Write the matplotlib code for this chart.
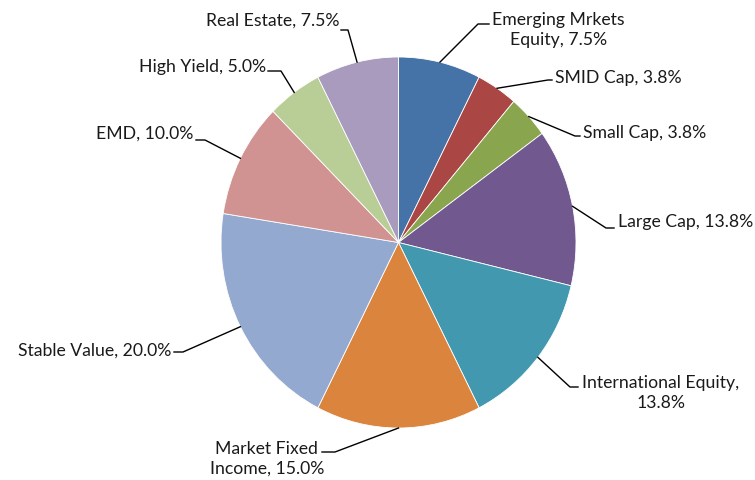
import numpy as np
import matplotlib
matplotlib.use("Agg")
import matplotlib.pyplot as plt

# allocation data
categories = ["Emerging Mrkets\nEquity", "SMID Cap", "Small Cap", "Large Cap",
              "International Equity,\n", "Market Fixed\nIncome", "Stable Value",
              "EMD", "High Yield", "Real Estate"]
values = [7.5, 3.75, 3.75, 13.75, 13.75, 15.0, 20.0, 10.0, 5.0, 7.5]
colors = ["#4572A7", "#AA4643", "#89A54E", "#71588F", "#4198AF",
          "#DB843D", "#93A9CF", "#D19392", "#B9CD96", "#A99BBD"]

W, H = 755, 480
CX, CY = 398.5, 242.5   # pie centre in pixels (from top-left)
RX, RY = 177.5, 185.5   # pie radius in pixels


def px(x, y):
    # pixel (from top-left) -> data coords
    return (x - CX) / RX, (CY - y) / RY


# label layout: elbow, line end, text position (pixels), alignment
layout = [
    ((478, 24), (489, 24), (492, 30), "left"),
    ((548, 80), (552, 80), (555, 78), "left"),
    ((575, 136), (580, 136), (583, 133), "left"),
    ((606, 228), (614, 228), (618, 222), "left"),
    ((570, 387), (578, 387), (582, 393), "left"),
    ((335, 452), (322, 452), (324, 459), "right"),
    ((183, 352), (174, 352), (171, 351), "right"),
    ((205, 140), (196, 140), (193, 134), "right"),
    ((281, 71), (268, 71), (266, 67), "right"),
    ((348, 30), (341, 30), (339, 21), "right"),
]

plt.rcParams["font.family"] = ["Lato", "DejaVu Sans"]

fig = plt.figure(figsize=(W / 100, H / 100), dpi=100)
ax = fig.add_axes([0, 0, 1, 1])
ax.pie(values, colors=colors, startangle=90, counterclock=False, radius=1,
       wedgeprops=dict(edgecolor="white", linewidth=0.6))
ax.set_aspect("auto")
ax.set_xlim(-CX / RX, (W - CX) / RX)
ax.set_ylim((CY - H) / RY, CY / RY)
ax.axis("off")

total = sum(values)
cum = 0
for name, v, (elbow, end, tpos, ha) in zip(categories, values, layout):
    mid = np.deg2rad(90 - 360 * (cum + v / 2) / total)
    cum += v
    a = (np.cos(mid), np.sin(mid))
    e = px(*elbow)
    n = px(*end)
    ax.plot([a[0], e[0], n[0]], [a[1], e[1], n[1]], color="black", lw=1)
    pct = "%.1f%%" % v
    if name.endswith(",\n"):
        txt = name + pct
    else:
        txt = name + ", " + pct
    tx, ty = px(*tpos)
    ax.text(tx, ty, txt, ha=ha, va="center", multialignment="center",
            fontsize=12.7, color="#1a1a1a", linespacing=1.3)

fig.savefig("out.png", dpi=100)
